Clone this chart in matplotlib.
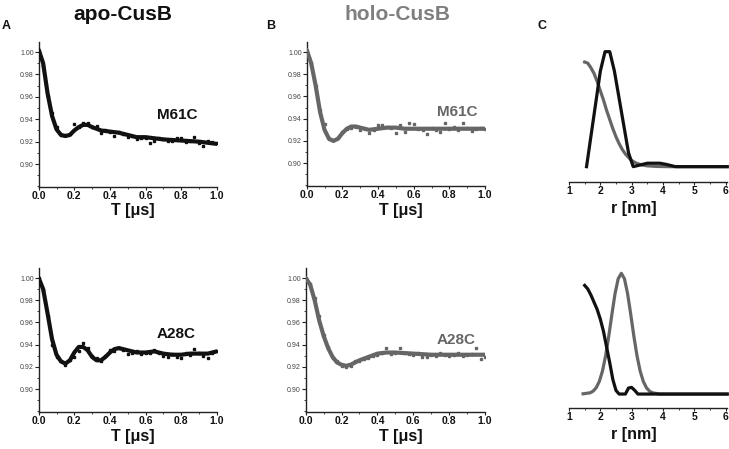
import matplotlib
matplotlib.use("Agg")
import matplotlib.pyplot as plt
from matplotlib.ticker import MultipleLocator, FixedLocator

plt.rcParams['font.family'] = ['Liberation Sans', 'DejaVu Sans']

W, H = 729, 449
BLACK = "#111111"
GRAY = "#666666"
TITLE_GRAY = "#7f7f7f"

# ---------------- DEER time traces: fit curves ----------------
t_fit_apo_m61 = [0, 0.025, 0.05, 0.075, 0.1, 0.125, 0.15, 0.175, 0.2, 0.225, 0.25, 0.275, 0.3,
                 0.35, 0.4, 0.45, 0.5, 0.55, 0.6, 0.65, 0.7, 0.8, 0.9, 1.0]
v_fit_apo_m61 = [1.002, 0.990, 0.963, 0.943, 0.931, 0.926, 0.925, 0.926, 0.930, 0.933, 0.935, 0.935, 0.933,
                 0.930, 0.929, 0.928, 0.926, 0.924, 0.924, 0.923, 0.922, 0.921, 0.920, 0.918]

t_fit_holo_m61 = [0, 0.025, 0.05, 0.075, 0.1, 0.125, 0.15, 0.175, 0.2, 0.225, 0.25, 0.275, 0.3,
                  0.35, 0.4, 0.45, 0.5, 0.55, 0.6, 0.7, 0.8, 0.9, 1.0]
v_fit_holo_m61 = [1.002, 0.990, 0.970, 0.946, 0.930, 0.922, 0.920, 0.922, 0.927, 0.931, 0.933, 0.933, 0.932,
                  0.930, 0.931, 0.932, 0.932, 0.931, 0.931, 0.931, 0.931, 0.931, 0.931]

t_fit_apo_a28 = [0, 0.025, 0.05, 0.075, 0.1, 0.125, 0.15, 0.175, 0.2, 0.225, 0.25, 0.275, 0.3, 0.325,
                 0.35, 0.375, 0.4, 0.425, 0.45, 0.475, 0.5, 0.55, 0.6, 0.65, 0.7, 0.75, 0.8, 0.85,
                 0.9, 0.95, 1.0]
v_fit_apo_a28 = [1.000, 0.990, 0.968, 0.945, 0.931, 0.925, 0.923, 0.926, 0.933, 0.938, 0.938, 0.935, 0.929,
                 0.926, 0.926, 0.929, 0.933, 0.936, 0.937, 0.936, 0.935, 0.933, 0.933, 0.934, 0.932,
                 0.931, 0.931, 0.932, 0.932, 0.932, 0.934]

t_fit_holo_a28 = [0, 0.025, 0.05, 0.075, 0.1, 0.125, 0.15, 0.175, 0.2, 0.225, 0.25, 0.275, 0.3,
                  0.35, 0.4, 0.45, 0.5, 0.6, 0.7, 0.8, 0.9, 1.0]
v_fit_holo_a28 = [1.000, 0.994, 0.980, 0.962, 0.948, 0.937, 0.929, 0.924, 0.922, 0.921, 0.922, 0.924, 0.926,
                  0.929, 0.932, 0.933, 0.933, 0.932, 0.931, 0.931, 0.931, 0.931]

# ---------------- DEER time traces: data points ----------------
t_pts = [0.0, 0.025, 0.05, 0.075, 0.1, 0.125, 0.15, 0.175, 0.2, 0.225, 0.25, 0.275, 0.3, 0.325,
         0.35, 0.375, 0.4, 0.425, 0.45, 0.475, 0.5, 0.525, 0.55, 0.575, 0.6, 0.625, 0.65, 0.675,
         0.7, 0.725, 0.75, 0.775, 0.8, 0.825, 0.85, 0.875, 0.9, 0.925, 0.95, 0.975, 1.0]
d_apo_m61 = [1.001, 0.988, 0.961, 0.946, 0.933, 0.926, 0.926, 0.927, 0.936, 0.933, 0.937, 0.937, 0.933, 0.934,
             0.928, 0.930, 0.929, 0.925, 0.929, 0.927, 0.924, 0.925, 0.922, 0.923, 0.923, 0.919, 0.921,
             0.923, 0.922, 0.921, 0.921, 0.923, 0.923, 0.920, 0.921, 0.924, 0.919, 0.916, 0.921, 0.920, 0.919]
d_holo_m61 = [1.001, 0.990, 0.969, 0.948, 0.935, 0.922, 0.921, 0.923, 0.928, 0.931, 0.932, 0.933, 0.930, 0.931,
              0.927, 0.930, 0.934, 0.934, 0.933, 0.932, 0.927, 0.934, 0.928, 0.936, 0.935, 0.931, 0.930,
              0.926, 0.932, 0.930, 0.928, 0.936, 0.931, 0.933, 0.930, 0.936, 0.932, 0.929, 0.931, 0.932, 0.931]
d_apo_a28 = [1.000, 0.989, 0.966, 0.940, 0.929, 0.925, 0.922, 0.926, 0.929, 0.934, 0.942, 0.937, 0.930, 0.928,
             0.925, 0.930, 0.935, 0.934, 0.937, 0.935, 0.932, 0.933, 0.934, 0.932, 0.933, 0.933, 0.935,
             0.933, 0.930, 0.929, 0.932, 0.929, 0.928, 0.933, 0.931, 0.936, 0.933, 0.930, 0.928, 0.933, 0.934]
d_holo_a28 = [1.000, 0.995, 0.982, 0.966, 0.949, 0.938, 0.928, 0.925, 0.921, 0.920, 0.921, 0.925, 0.925, 0.927,
              0.928, 0.930, 0.931, 0.933, 0.937, 0.932, 0.933, 0.937, 0.933, 0.932, 0.931, 0.933, 0.929,
              0.929, 0.931, 0.930, 0.933, 0.931, 0.930, 0.931, 0.933, 0.930, 0.931, 0.932, 0.937, 0.927, 0.929]

# ---------------- Distance distributions ----------------
r_c1_black = [1.56, 2.0, 2.15, 2.3, 2.45, 2.9, 3.05, 3.2, 3.5, 3.9, 4.1, 4.4, 6.05]
p_c1_black = [0.0, 0.83, 1.0, 1.0, 0.83, 0.12, 0.0, 0.01, 0.03, 0.03, 0.02, 0.0, 0.0]
r_c1_gray = [1.5, 1.6, 1.7, 1.8, 1.9, 2.0, 2.1, 2.2, 2.3, 2.4, 2.5, 2.6, 2.7, 2.8, 2.9, 3.0,
             3.1, 3.2, 3.3, 3.5, 3.8, 4.2, 6.05]
p_c1_gray = [0.91, 0.90, 0.86, 0.81, 0.74, 0.66, 0.58, 0.49, 0.41, 0.33, 0.26, 0.20, 0.15, 0.11, 0.08, 0.054,
             0.037, 0.025, 0.016, 0.007, 0.002, 0.0, 0.0]

r_c2_black = [1.5, 1.6, 1.7, 1.8, 1.9, 2.0, 2.1, 2.2, 2.3, 2.4, 2.5, 2.6, 2.8, 2.9, 3.0, 3.1, 3.2, 6.05]
p_c2_black = [0.90, 0.87, 0.82, 0.76, 0.70, 0.62, 0.52, 0.39, 0.26, 0.12, 0.03, 0.0, 0.0, 0.05, 0.055, 0.03,
              0.0, 0.0]
r_c2_gray = [1.45, 1.67, 1.77, 1.87, 1.97, 2.07, 2.17, 2.27, 2.37, 2.47, 2.57, 2.67, 2.77, 2.87, 2.97,
             3.07, 3.17, 3.27, 3.37, 3.47, 3.57, 3.67, 3.9, 6.05]
p_c2_gray = [0.002, 0.01, 0.024, 0.053, 0.106, 0.192, 0.318, 0.48, 0.662, 0.832, 0.955, 1.0, 0.955, 0.832,
             0.662, 0.48, 0.318, 0.192, 0.106, 0.053, 0.024, 0.01, 0.0, 0.0]

fig = plt.figure(figsize=(W / 100, H / 100), dpi=100)


def px_axes(left, top, right, bottom):
    return fig.add_axes([left / W, 1 - bottom / H, (right - left) / W, (bottom - top) / H])


def style_xticks(ax):
    ax.tick_params(axis='x', which='major', direction='out', length=2.5, width=0.8,
                   labelsize=7.5, pad=0.5, colors='#222222')
    ax.tick_params(axis='x', which='minor', direction='out', length=1.5, width=0.6, colors='#222222')
    for lb in ax.get_xticklabels():
        lb.set_fontweight('bold')
        lb.set_color('#111111')


def deer_axes(left, top, right, bottom, tf, vf, dp, color):
    ax = px_axes(left, top, right, bottom)
    ax.plot(t_pts, dp, linestyle='none', marker='s', markersize=1.8, color=color, zorder=2)
    ax.plot(tf, vf, color=color, lw=3.0, solid_capstyle='round', zorder=3)
    ax.set_xlim(0, 1.0)
    ax.set_ylim(0.8795, 1.009)
    for s in ('top', 'right'):
        ax.spines[s].set_visible(False)
    for s in ('left', 'bottom'):
        ax.spines[s].set_linewidth(1.0)
        ax.spines[s].set_color('#222222')
    ax.xaxis.set_major_locator(MultipleLocator(0.2))
    ax.xaxis.set_minor_locator(MultipleLocator(0.1))
    ax.yaxis.set_major_locator(FixedLocator([0.90, 0.92, 0.94, 0.96, 0.98, 1.00]))
    ax.yaxis.set_minor_locator(MultipleLocator(0.01))
    ax.set_yticklabels(['0.90', '0.92', '0.94', '0.96', '0.98', '1.00'])
    ax.tick_params(axis='y', which='major', direction='out', length=3, width=0.8,
                   labelsize=5, pad=0.5, colors='#222222', labelcolor='#444444')
    ax.tick_params(axis='y', which='minor', direction='out', length=1.8, width=0.6, colors='#222222')
    style_xticks(ax)
    ax.set_facecolor('none')
    return ax


def dist_axes(left, top, right, bottom, ylo, yhi, curves):
    ax = px_axes(left, top, right, bottom)
    for r, p, c in curves:
        ax.plot(r, p, color=c, lw=2.3, solid_joinstyle='round', clip_on=False)
    ax.set_xlim(1, 6.05)
    ax.set_ylim(ylo, yhi)
    for s in ('top', 'right', 'left'):
        ax.spines[s].set_visible(False)
    ax.spines['bottom'].set_linewidth(1.0)
    ax.spines['bottom'].set_color('#222222')
    ax.spines['bottom'].set_bounds(1, 6.05)
    ax.set_yticks([])
    ax.xaxis.set_major_locator(FixedLocator([1, 2, 3, 4, 5, 6]))
    ax.xaxis.set_minor_locator(FixedLocator([1.5, 2.5, 3.5, 4.5, 5.5]))
    style_xticks(ax)
    ax.set_facecolor('none')
    return ax


deer_axes(38.7, 42, 216.7, 187, t_fit_apo_m61, v_fit_apo_m61, d_apo_m61, BLACK)
deer_axes(306.7, 42, 485, 186, t_fit_holo_m61, v_fit_holo_m61, d_holo_m61, GRAY)
deer_axes(38.7, 268, 216.7, 412, t_fit_apo_a28, v_fit_apo_a28, d_apo_a28, BLACK)
deer_axes(305.7, 268, 485, 412, t_fit_holo_a28, v_fit_holo_a28, d_holo_a28, GRAY)

dist_axes(569, 42, 727.2, 182.3, -0.136, 1.084,
          [(r_c1_gray, p_c1_gray, GRAY), (r_c1_black, p_c1_black, BLACK)])
dist_axes(569, 268, 727.2, 408.3, -0.118, 1.044,
          [(r_c2_gray, p_c2_gray, GRAY), (r_c2_black, p_c2_black, BLACK)])


def ftext(x, y, s, **kw):
    fig.text(x / W, 1 - y / H, s, ha='center', va='center', **kw)


# titles
ftext(123, 14, "apo-CusB", fontsize=15, fontweight='bold', color='#111111')
ftext(397, 14, "holo-CusB", fontsize=15, fontweight='bold', color=TITLE_GRAY)
# panel letters
ftext(6.5, 26, "A", fontsize=9, fontweight='bold', color='#111111')
ftext(271, 26, "B", fontsize=9, fontweight='bold', color='#111111')
ftext(542.5, 26, "C", fontsize=9, fontweight='bold', color='#111111')
# series labels
ftext(177.5, 115.3, "M61C", fontsize=11, fontweight='bold', color='#111111')
ftext(457.2, 112.5, "M61C", fontsize=11, fontweight='bold', color=GRAY)
ftext(176.3, 333.7, "A28C", fontsize=11, fontweight='bold', color='#111111')
ftext(456.3, 339.7, "A28C", fontsize=11, fontweight='bold', color=GRAY)
# axis labels
LBL = dict(fontsize=11.5, fontweight='bold', color='#111111')
ftext(133, 210, "T [μs]", **LBL)
ftext(401, 210, "T [μs]", **LBL)
ftext(133, 436, "T [μs]", **LBL)
ftext(401, 436, "T [μs]", **LBL)
ftext(634, 208, "r [nm]", **LBL)
ftext(634, 434, "r [nm]", **LBL)

fig.savefig("out.png", dpi=100)
